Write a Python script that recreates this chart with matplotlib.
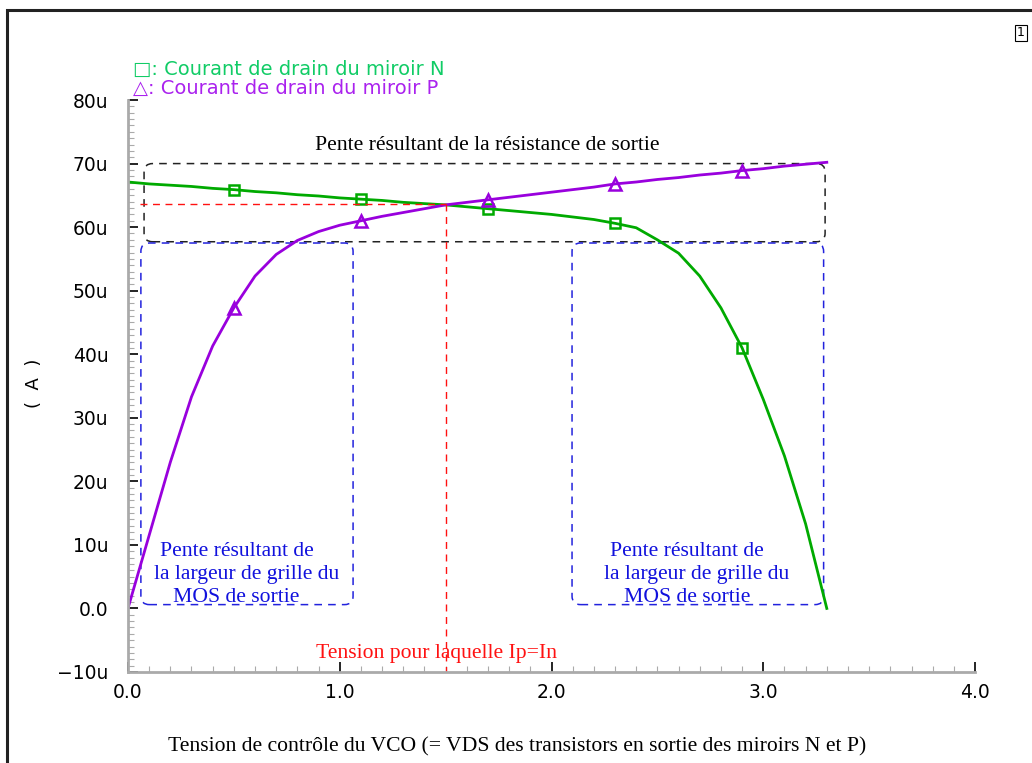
import matplotlib
matplotlib.use("Agg")
import matplotlib.pyplot as plt
from matplotlib.patches import FancyBboxPatch, Rectangle
from matplotlib.ticker import MultipleLocator, FuncFormatter

# ------------------------ #
# DATA (currents in uA)
# ------------------------ #
vds = [0.0, 0.1, 0.2, 0.3, 0.4, 0.5, 0.6, 0.7, 0.8, 0.9, 1.0,
       1.1, 1.2, 1.3, 1.4, 1.5, 1.6, 1.7, 1.8, 1.9, 2.0, 2.1,
       2.2, 2.3, 2.4, 2.5, 2.6, 2.7, 2.8, 2.9, 3.0, 3.1, 3.2, 3.3]

i_n = [67.1, 66.8, 66.6, 66.4, 66.1, 65.9, 65.6, 65.4, 65.1, 64.9, 64.6,
       64.4, 64.2, 63.9, 63.7, 63.5, 63.2, 62.9, 62.6, 62.3, 62.0, 61.6,
       61.2, 60.6, 59.9, 58.0, 55.9, 52.3, 47.3, 41.0, 32.9, 24.0, 13.3, 0.0]

i_p = [0.0, 11.5, 23.0, 33.3, 41.3, 47.3, 52.3, 55.7, 57.9, 59.3, 60.3,
       61.0, 61.7, 62.3, 62.9, 63.5, 63.9, 64.3, 64.7, 65.1, 65.5, 65.9,
       66.3, 66.8, 67.1, 67.5, 67.8, 68.2, 68.5, 68.9, 69.2, 69.6, 69.9, 70.2]

marker_idx = [5, 11, 17, 23, 29]

v_cross = 1.5
i_cross = 63.6

green = "#00aa00"
purple = "#9900dd"
blue = "#2222dd"
red = "#ff1111"

fig = plt.figure(figsize=(10.32, 7.63), dpi=100)
ax = fig.add_axes([0.124, 0.1193, 0.8208, 0.7496])

ax.plot(vds, i_n, color=green, lw=2, marker="s", markevery=marker_idx,
        markersize=7, markerfacecolor="none", markeredgewidth=1.8)
ax.plot(vds, i_p, color=purple, lw=2, marker="^", markevery=marker_idx,
        markersize=9, markerfacecolor="none", markeredgewidth=1.8)

# crossing point guides
ax.plot([0.057, v_cross], [i_cross, i_cross], color=red, lw=1, ls=(0, (5, 4)))
ax.plot([v_cross, v_cross], [i_cross, -10], color=red, lw=1, ls=(0, (5, 4)))

# rounded dashed boxes (aspect correction so corners look round)
asp = (0.7496 * 763 / 90) / (0.8208 * 1032 / 4)


def rbox(x0, y0, x1, y1, color):
    p = FancyBboxPatch((x0, y0), x1 - x0, y1 - y0,
                       boxstyle="round,pad=0,rounding_size=0.04",
                       mutation_aspect=1 / asp, fill=False, edgecolor=color,
                       lw=1.1, ls=(0, (5, 4)))
    ax.add_patch(p)


rbox(0.076, 57.7, 3.292, 70.0, "#222222")
rbox(0.061, 0.6, 1.063, 57.5, blue)
rbox(2.097, 0.6, 3.285, 57.5, blue)

serif = "Liberation Serif"
fs = 15.6
ax.text(1.695, 72.8, "Pente résultant de la résistance de sortie",
        family=serif, fontsize=fs, ha="center", va="center", color="black")
for xc in [(0.515, 0.562, 0.51), (2.64, 2.687, 2.64)]:
    for x, y, s in zip(xc, [8.9, 5.3, 1.7],
                       ["Pente résultant de", "la largeur de grille du",
                        "MOS de sortie"]):
        ax.text(x, y, s, family=serif, fontsize=fs, ha="center",
                va="center", color="#1111dd")
ax.text(1.455, -7.1, "Tension pour laquelle Ip=In", family=serif,
        fontsize=fs, ha="center", va="center", color=red)

# axes cosmetics
ax.set_xlim(0, 4)
ax.set_ylim(-10, 80)
for s in ["top", "right"]:
    ax.spines[s].set_visible(False)
for s in ["left", "bottom"]:
    ax.spines[s].set_color("#aaaaaa")
    ax.spines[s].set_linewidth(2)
ax.xaxis.set_major_locator(MultipleLocator(1))
ax.xaxis.set_minor_locator(MultipleLocator(0.1))
ax.yaxis.set_major_locator(MultipleLocator(10))
ax.yaxis.set_minor_locator(MultipleLocator(1))
ax.xaxis.set_major_formatter(FuncFormatter(lambda v, p: f"{v:.1f}"))


def yfmt(v, p):
    if abs(v) < 1e-9:
        return "0.0"
    return f"{v:.0f}u".replace("-", "\u2212")


ax.yaxis.set_major_formatter(FuncFormatter(yfmt))
ax.tick_params(which="major", direction="in", length=7, width=1.2,
               color="black", labelsize=13.5, pad=8)
ax.tick_params(which="minor", direction="in", length=4, width=0.8,
               color="#aaaaaa")
ax.tick_params(axis="y", which="major", pad=14)

fig.text(0.033, 0.498, "(  A  )", rotation=90, fontsize=13, ha="center",
         va="center")
fig.text(0.501, 0.021,
         "Tension de contrôle du VCO (= VDS des transistors en sortie des miroirs N et P)",
         family=serif, fontsize=fs, ha="center", va="center")

fig.text(0.129, 0.909, "□: Courant de drain du miroir N", color="#11cc66",
         fontsize=14, ha="left", va="center")
fig.text(0.129, 0.884, "△: Courant de drain du miroir P", color="#aa22ee",
         fontsize=14, ha="left", va="center")

# page frame and page number box
fig.add_artist(Rectangle((7 / 1032, -0.05), 1.2, 1 - 10 / 763 + 0.05,
                         transform=fig.transFigure, fill=False,
                         edgecolor="#222222", lw=2.2))
fig.text(1021 / 1032, 1 - 33 / 763, "1", fontsize=9, ha="center", va="center",
         bbox=dict(boxstyle="square,pad=0.15", fc="white", ec="black", lw=0.8))

fig.savefig("out.png", dpi=100)
